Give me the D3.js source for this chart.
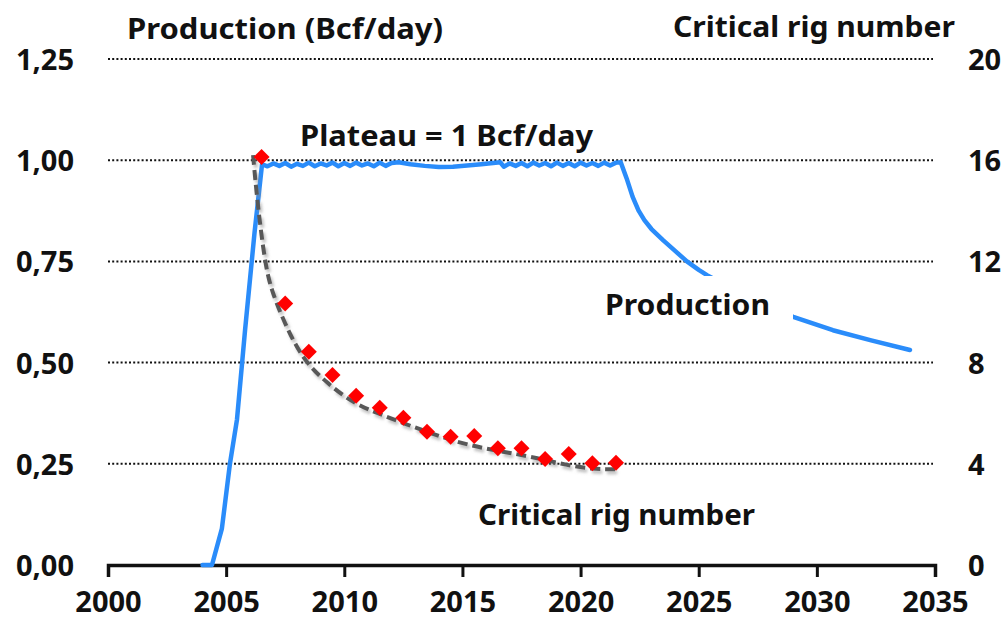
<!DOCTYPE html>
<html>
<head>
<meta charset="utf-8">
<script src="https://cdn.jsdelivr.net/npm/d3@7"></script>
<style>
  body { margin: 0; background: #fff; }
  svg text { font-family: "Noto Sans", "Open Sans", sans-serif; font-weight: bold; fill: #111; }
</style>
</head>
<body>
<svg></svg>
<script>
// chart data
const prodYears = [2004.0, 2004.4, 2004.82, 2005.16, 2005.46, 2005.8, 2006.2, 2006.52,
  2006.75, 2007.0, 2007.25, 2007.5, 2007.75, 2008.0, 2008.25, 2008.5, 2008.75, 2009.0,
  2009.25, 2009.5, 2009.75, 2010.0, 2010.25, 2010.5, 2010.75, 2011.0, 2011.25, 2011.5,
  2011.75, 2012.0, 2012.3, 2012.8, 2013.4, 2014.0, 2014.6, 2015.2, 2015.8, 2016.6,
  2016.75, 2017.0, 2017.25, 2017.5, 2017.75, 2018.0, 2018.25, 2018.5, 2018.75, 2019.0,
  2019.25, 2019.5, 2019.75, 2020.0, 2020.25, 2020.5, 2020.75, 2021.0, 2021.25, 2021.5,
  2021.7, 2021.95, 2022.2, 2022.45, 2022.7, 2023.0, 2023.5, 2024.0, 2024.5, 2025.0,
  2025.35, 2026.5, 2027.5, 2029.0, 2030.68, 2032.3, 2033.94];
const prodValues = [0, 0, 0.09, 0.25, 0.36, 0.58, 0.82, 0.99,
  0.985, 0.992, 0.986, 0.993, 0.984, 0.991, 0.986, 0.994, 0.985, 0.992,
  0.987, 0.994, 0.985, 0.993, 0.986, 0.994, 0.987, 0.992, 0.985, 0.994,
  0.986, 0.993, 0.995, 0.99, 0.986, 0.983, 0.984, 0.987, 0.99, 0.995,
  0.984, 0.992, 0.986, 0.993, 0.985, 0.994, 0.987, 0.993, 0.985, 0.994,
  0.986, 0.993, 0.985, 0.994, 0.987, 0.993, 0.986, 0.994, 0.987, 0.994,
  0.995, 0.955, 0.91, 0.876, 0.852, 0.83, 0.802, 0.776, 0.75, 0.729,
  0.716, 0.68, 0.65, 0.613, 0.58, 0.555, 0.531];

const rigYears = [2006.5, 2007.5, 2008.5, 2009.5, 2010.5, 2011.5, 2012.5, 2013.5,
  2014.5, 2015.5, 2016.5, 2017.5, 2018.5, 2019.5, 2020.5, 2021.5];
const rigValues = [16.13, 10.34, 8.43, 7.51, 6.69, 6.22, 5.82, 5.27,
  5.07, 5.10, 4.61, 4.61, 4.19, 4.39, 4.02, 4.04];

const fitYears = [2006.14, 2006.31, 2006.64, 2006.9, 2007.45, 2008.25, 2009.27, 2010.37,
  2011.38, 2012.48, 2013.63, 2014.77, 2015.87, 2017.01, 2018.15, 2019.42, 2020.52, 2021.54];
const fitValues = [16.2, 14.43, 11.94, 10.9, 9.6, 8.10, 7.19, 6.40,
  6.01, 5.61, 5.22, 4.86, 4.62, 4.43, 4.23, 3.95, 3.78, 3.79];

const xTicks = [2000, 2005, 2010, 2015, 2020, 2025, 2030, 2035];
const leftTicks = [0, 0.25, 0.5, 0.75, 1.0, 1.25];
const leftLabels = ['0,00', '0,25', '0,50', '0,75', '1,00', '1,25'];
const rightTicks = [0, 4, 8, 12, 16, 20];

// set up svg
const width = 1008,
      height = 627;

const svg = d3.select('svg')
              .attr('width', width)
              .attr('height', height);

const defs = svg.append('defs');
defs.append('filter')
    .attr('id', 'shadow')
    .attr('x', '-10%').attr('y', '-10%')
    .attr('width', '130%').attr('height', '130%')
  .append('feDropShadow')
    .attr('dx', 2).attr('dy', 3)
    .attr('stdDeviation', 1.6)
    .attr('flood-color', '#888')
    .attr('flood-opacity', 0.55);

// scales
const xScale = d3.scaleLinear()
                 .domain([2000, 2035])
                 .range([108, 935]);

const yLeft = d3.scaleLinear()
                .domain([0, 1.25])
                .range([565, 59]);

const yRight = d3.scaleLinear()
                 .domain([0, 20])
                 .range([565, 59]);

// dotted gridlines
svg.append('g')
   .selectAll('line')
   .data(leftTicks.slice(1))
   .join('line')
   .attr('x1', xScale(2000))
   .attr('x2', xScale(2035) - 2)
   .attr('y1', d => yLeft(d))
   .attr('y2', d => yLeft(d))
   .attr('stroke', '#111')
   .attr('stroke-width', 2)
   .attr('stroke-dasharray', '2,2.2');

// x axis
const x_axis = d3.axisBottom(xScale)
                 .tickValues(xTicks)
                 .tickFormat(d3.format('d'))
                 .tickSizeInner(12)
                 .tickSizeOuter(12)
                 .tickPadding(14);

const xg = svg.append('g')
   .attr('transform', 'translate(0,565)')
   .call(x_axis);
xg.select('.domain').attr('stroke', '#111').attr('stroke-width', 3.5);
xg.selectAll('.tick line').attr('stroke', '#111').attr('stroke-width', 3);
xg.selectAll('.tick text')
  .attr('font-size', '29px')
  .attr('fill', '#111')
  .attr('dy', '0.71em')
  .attr('font-family', '"Noto Sans", sans-serif');

// left axis labels
svg.append('g')
   .selectAll('text')
   .data(leftTicks)
   .join('text')
   .attr('x', 74)
   .attr('y', d => yLeft(d) + 11)
   .attr('text-anchor', 'end')
   .attr('font-size', '29px')
   .text((d, i) => leftLabels[i]);

// right axis labels
svg.append('g')
   .selectAll('text')
   .data(rightTicks)
   .join('text')
   .attr('x', 968)
   .attr('y', d => yRight(d) + 11)
   .attr('text-anchor', 'start')
   .attr('font-size', '29px')
   .text(d => d);

// axis titles
svg.append('text')
   .attr('x', 127).attr('y', 39)
   .attr('font-size', '28px')
   .attr('textLength', 316)
   .attr('lengthAdjust', 'spacingAndGlyphs')
   .text('Production (Bcf/day)');

svg.append('text')
   .attr('x', 673).attr('y', 37)
   .attr('font-size', '28px')
   .attr('textLength', 282)
   .attr('lengthAdjust', 'spacingAndGlyphs')
   .text('Critical rig number');

// production curve
const prodData = prodYears.map((y, i) => ({year: y, value: prodValues[i]}));
const prodLine = d3.line()
      .x(d => xScale(d.year))
      .y(d => yLeft(d.value))
      .curve(d3.curveLinear);

svg.append('path')
   .attr('d', prodLine(prodData))
   .attr('fill', 'none')
   .attr('stroke', '#2A8CFA')
   .attr('stroke-width', 4.5)
   .attr('stroke-linejoin', 'round')
   .attr('stroke-linecap', 'round');

// fitted rig curve, dashed with a soft shadow
const fitData = fitYears.map((y, i) => ({year: y, value: fitValues[i]}));
const fitLine = d3.line()
      .x(d => xScale(d.year))
      .y(d => yRight(d.value))
      .curve(d3.curveBasis);

svg.append('path')
   .attr('d', fitLine(fitData))
   .attr('fill', 'none')
   .attr('stroke', '#595959')
   .attr('stroke-width', 4)
   .attr('stroke-dasharray', '10,5')
   .attr('filter', 'url(#shadow)');

// rig diamonds
const rigData = rigYears.map((y, i) => ({year: y, value: rigValues[i]}));
svg.append('g')
   .selectAll('path')
   .data(rigData)
   .join('path')
   .attr('d', d3.symbol(d3.symbolSquare, 128))
   .attr('transform', d => 'translate(' + xScale(d.year) + ',' + yRight(d.value) + ') rotate(45)')
   .attr('fill', '#FF0000');

// labels inside the chart
svg.append('text')
   .attr('x', 300).attr('y', 146)
   .attr('font-size', '28px')
   .attr('textLength', 293)
   .attr('lengthAdjust', 'spacingAndGlyphs')
   .text('Plateau = 1 Bcf/day');

// white box hides the production line behind its label
svg.append('rect')
   .attr('x', 600).attr('y', 276)
   .attr('width', 193).attr('height', 48)
   .attr('fill', '#fff');

svg.append('text')
   .attr('x', 605).attr('y', 315)
   .attr('font-size', '28px')
   .attr('textLength', 165)
   .attr('lengthAdjust', 'spacingAndGlyphs')
   .text('Production');

svg.append('text')
   .attr('x', 478).attr('y', 525)
   .attr('font-size', '28px')
   .attr('textLength', 277)
   .attr('lengthAdjust', 'spacingAndGlyphs')
   .text('Critical rig number');
</script>
</body>
</html>
